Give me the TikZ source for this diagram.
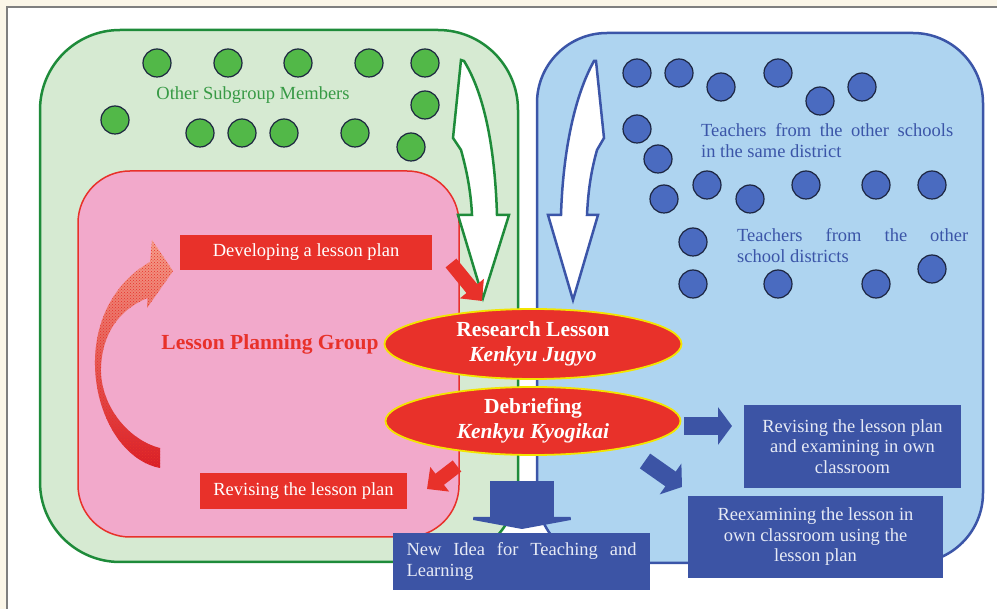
\documentclass[tikz,border=0pt]{standalone}
\usepackage{fontspec}
\setmainfont{Liberation Serif}
\usetikzlibrary{arrows.meta,shapes.geometric,patterns}

\definecolor{bgcream}{HTML}{FBF6E8}
\definecolor{framegray}{HTML}{7F7F7F}
\definecolor{subfill}{HTML}{D6EAD2}
\definecolor{subline}{HTML}{1E8B3A}
\definecolor{subtext}{HTML}{379A45}
\definecolor{gdotfill}{HTML}{52B848}
\definecolor{lpgfill}{HTML}{F2A9CB}
\definecolor{lpgred}{HTML}{E8312A}
\definecolor{loopdark}{HTML}{D91E26}
\definecolor{looplight}{HTML}{F5A08C}
\definecolor{kyellow}{HTML}{F3E500}
\definecolor{distfill}{HTML}{AED4F0}
\definecolor{distline}{HTML}{3B55A8}
\definecolor{bdotfill}{HTML}{4A6BC0}
\definecolor{dotline}{HTML}{1C2540}
\definecolor{ideablue}{HTML}{3C54A5}
\definecolor{ideatext}{HTML}{E6EAF5}

\tikzset{
  gdot/.style={circle, draw=dotline, fill=gdotfill, line width=1.2pt, minimum size=28pt, inner sep=0pt},
  bdot/.style={circle, draw=dotline, fill=bdotfill, line width=1.2pt, minimum size=28pt, inner sep=0pt},
  redbox/.style={fill=lpgred, text=white, inner sep=0pt, font=\fontsize{18.5}{21}\selectfont},
  bluebox/.style={fill=ideablue, text=ideatext, inner sep=0pt, align=center, font=\fontsize{18.5}{20.5}\selectfont},
  kenkyu/.style={ellipse, fill=lpgred, draw=kyellow, line width=1.8pt, text=white, inner sep=0pt, align=center,
    font=\bfseries\fontsize{21.5}{25}\selectfont, minimum width=297pt, minimum height=70pt},
  bigwhite/.style={fill=white, line width=2.5pt, line join=miter},
  redarrow/.style={draw=lpgred, line width=14pt, -{Triangle[width=30pt,length=16pt]}},
  bluearrow/.style={draw=ideablue, line width=18pt, -{Triangle[width=37pt,length=14pt]}},
}

\begin{document}
\begin{tikzpicture}[x=1pt, y=-1pt]
  \useasboundingbox (0,0) rectangle (997,609);
  \clip (0,0) rectangle (997,609);
  \fill[bgcream] (0,0) rectangle (997,609);
  \draw[framegray, line width=1.5pt, fill=white] (7,7) rectangle (1020,640);

  % 枠
  \node[draw=subline, fill=subfill, line width=2.5pt, rounded corners=80pt, minimum width=478pt, minimum height=532pt] (sub) at (279,296) {};
  \node[draw=distline, fill=distfill, line width=2.5pt, rounded corners=70pt, minimum width=446pt, minimum height=530pt] (dist) at (760,298) {};
  \node[draw=lpgred, fill=lpgfill, line width=1.5pt, rounded corners=52pt, minimum width=381pt, minimum height=366pt] (lpg) at (268.5,354) {};

  % 丸
  \foreach \x/\y [count=\i] in {157/63, 228/63, 298/63, 369/63, 425/63, 425/105, 115/120,
      200/133, 242/133, 284/133, 355/133, 411/147}
    \node[gdot] (g\i) at (\x,\y) {};
  \foreach \x/\y [count=\i] in {637/73, 679/73, 721/87, 778/73, 820/101, 862/87, 637/129,
      658/159, 707/185, 664/199, 750/199, 806/185, 876/185, 932/185,
      693/242, 693/284, 778/284, 876/284, 932/269}
    \node[bdot] (b\i) at (\x,\y) {};

  % 文字
  \node[text=subtext, font=\fontsize{18.5}{21}\selectfont] (subname) at (253,95) {Other Subgroup Members};
  \node[text=distline, anchor=west, align=left, inner sep=0pt, font=\fontsize{18.5}{21}\selectfont] (samedist) at (701,141)
    {\makebox[252pt][s]{Teachers from the other schools}\\in the same district};
  \node[text=distline, anchor=west, align=left, inner sep=0pt, font=\fontsize{18.5}{21}\selectfont] (otherdist) at (737,245.5)
    {\makebox[231pt][s]{Teachers from the other}\\school districts};
  \node[text=lpgred, font=\bfseries\fontsize{21.5}{25}\selectfont] (lpgname) at (270,344) {Lesson Planning Group};

  % 白い矢印
  \draw[bigwhite, draw=subline] (461,60) -- (453,138) -- (461,150) .. controls (468,175) and (471,195) .. (472,215)
    -- (458,215) -- (483,298) -- (509,215) -- (497,215) .. controls (495,150) and (485,95) .. (464,61) -- cycle;
  \draw[bigwhite, draw=distline] (596,61) -- (604,138) -- (597,150) .. controls (590,175) and (588,195) .. (587,215)
    -- (598,215) -- (573,300) -- (548,215) -- (561,215) .. controls (563,150) and (575,95) .. (594,61) -- cycle;

  % ループ矢印
  \shade[top color=looplight, bottom color=loopdark, postaction={pattern=crosshatch dots, pattern color=lpgred}]
    (150,262) .. controls (118,280) and (96,315) .. (95,360) .. controls (94,410) and (120,460) .. (160,468)
    -- (160,448) .. controls (128,440) and (100,405) .. (101,368) .. controls (102,335) and (118,310) .. (147.5,298)
    -- (147,308) -- (173,271) -- (152,240) -- cycle;

  % 赤い箱
  \node[redbox, minimum width=252pt, minimum height=35pt] (devel) at (306,252.5) {Developing a lesson plan};
  \node[redbox, minimum width=207pt, minimum height=36pt] (revise) at (303.5,491) {Revising the lesson plan};

  % 楕円
  \node[kenkyu] (jugyo) at (533,344) {Research Lesson\\\textit{Kenkyu Jugyo}};
  \node[kenkyu, minimum width=295pt, minimum height=68pt] (kyogi) at (533,421) {Debriefing\\\textit{Kenkyu Kyogikai}};

  % 矢印
  \coordinate (r1s) at (451,263);
  \coordinate (r1e) at (482,301);
  \coordinate (r2s) at (457,466);
  \coordinate (r2e) at (427,489);
  \draw[redarrow] (r1s) -- (r1e);
  \draw[redarrow] (r2s) -- (r2e);

  \coordinate (b1s) at (684,426);
  \coordinate (b1e) at (732,426);
  \coordinate (b2s) at (645,461);
  \coordinate (b2e) at (682,487);
  \coordinate (b3s) at (522,481);
  \coordinate (b3e) at (522,529);
  \draw[bluearrow] (b1s) -- (b1e);
  \draw[bluearrow] (b2s) -- (b2e);
  \draw[draw=ideablue, line width=64pt, -{Triangle[width=130pt,length=12pt]}] (b3s) -- (b3e);

  % 青い箱
  \node[bluebox, minimum width=217pt, minimum height=83pt] (ownclass) at (852.5,446.5)
    {Revising the lesson plan\\and examining in own\\classroom};
  \node[bluebox, minimum width=255pt, minimum height=82pt] (reexam) at (815.5,537)
    {Reexamining the lesson in\\own classroom using the\\lesson plan};
  \node[bluebox, minimum width=257pt, minimum height=57pt, align=left] (newidea) at (521.5,561.5)
    {\makebox[230pt][s]{New Idea for Teaching and}\\Learning};
\end{tikzpicture}
\end{document}
